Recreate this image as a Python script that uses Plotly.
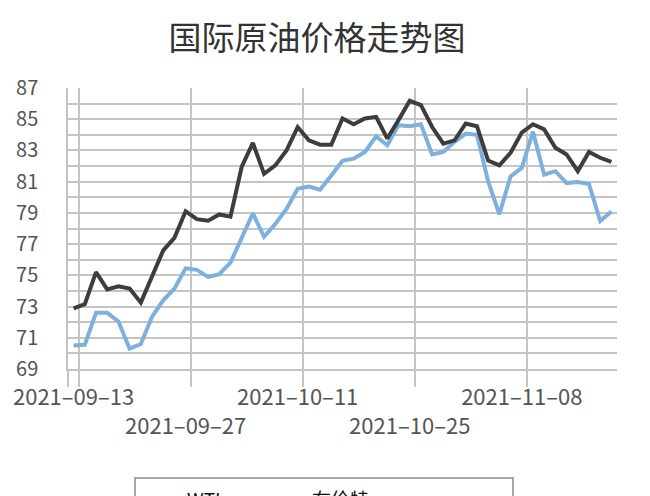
import plotly.graph_objects as go

# Trading-day index (49 trading days, 2021-09-13 .. 2021-11-18)
tick_index = [0, 10, 20, 30, 40]
tick_labels = ["2021–09–13", "<br>2021–09–27", "2021–10–11", "<br>2021–10–25", "2021–11–08"]

wti = [70.5, 70.55, 72.6, 72.6, 72.05, 70.3, 70.6, 72.35, 73.4, 74.15,
       75.45, 75.35, 74.9, 75.07, 75.82, 77.43, 78.97, 77.47, 78.29, 79.25,
       80.54, 80.69, 80.48, 81.4, 82.34, 82.47, 82.9, 83.9, 83.33, 84.62,
       84.55, 84.68, 82.75, 82.9, 83.55, 84.08, 84.0, 81.02, 78.91, 81.34,
       81.88, 84.2, 81.45, 81.67, 80.91, 80.98, 80.85, 78.48, 79.09]

brent = [72.89, 73.15, 75.2, 74.1, 74.3, 74.15, 73.25, 75.0, 76.6, 77.4,
         79.1, 78.6, 78.5, 78.9, 78.76, 81.94, 83.48, 81.5, 82.04, 83.0,
         84.5, 83.65, 83.37, 83.37, 85.05, 84.68, 85.05, 85.15, 83.76, 84.94,
         86.18, 85.9, 84.5, 83.44, 83.65, 84.73, 84.55, 82.35, 82.05, 82.85,
         84.14, 84.68, 84.35, 83.17, 82.74, 81.67, 82.9, 82.53, 82.27]

x = list(range(len(wti)))

FONT = "Noto Sans CJK SC"
GRID = "#c4c4c4"
W, H = 642, 488  # page body has an 8px margin
PL, PR, PT, PB = 60, 33, 80, 127
PH = H - PT - PB

fig = go.Figure()
fig.add_trace(go.Scatter(x=x, y=wti, mode="lines", name="WTI",
                         line=dict(color="#7db0dd", width=4)))
fig.add_trace(go.Scatter(x=x, y=brent, mode="lines", name="布伦特",
                         line=dict(color="#3d3d3d", width=4)))

# legend frame (wider than the entries, as in the reference)
fig.add_shape(type="rect", xref="paper", yref="paper",
              x0=(127 - PL) / (W - PL - PR), x1=(505 - PL) / (W - PL - PR),
              y0=-(470 - (H - PB)) / PH, y1=-(560 - (H - PB)) / PH,
              line=dict(color="#8a8a8a", width=1.5), fillcolor="rgba(0,0,0,0)")

fig.update_layout(
    width=W, height=H,
    margin=dict(l=PL, r=PR, t=PT, b=PB, autoexpand=False),
    paper_bgcolor="white", plot_bgcolor="white",
    title=dict(text="国际原油价格走势图", x=309 / W, xanchor="center",
               y=1 - 30 / H, yanchor="middle",
               font=dict(family=FONT, size=33, color="#333333")),
    font=dict(family=FONT, color="#595959"),
    showlegend=True,
    legend=dict(orientation="h", xref="container", yref="container",
                x=129 / W, xanchor="left", y=1 - 473 / H, yanchor="top",
                borderwidth=0, bgcolor="rgba(0,0,0,0)",
                itemwidth=40, entrywidth=70,
                font=dict(family=FONT, size=19, color="#111111")),
)

fig.update_xaxes(
    range=[-0.5, 48.5],
    tickmode="array", tickvals=tick_index, ticktext=tick_labels,
    tickangle=0,
    ticks="", showgrid=False, zeroline=False,
    ticklabelstandoff=8,
    tickfont=dict(family=FONT, size=22, color="#555555"),
    showline=True, linecolor=GRID, linewidth=1.5,
    minor=dict(tickmode="array", tickvals=[-0.5, 0.5, 10.5, 20.5, 30.5, 40.5],
               showgrid=True, gridcolor=GRID, gridwidth=1.5,
               ticks="outside", ticklen=16, tickcolor=GRID, tickwidth=1.5),
)

fig.update_yaxes(
    range=[69, 87],
    tickmode="linear", tick0=69, dtick=2,
    showgrid=True, gridcolor=GRID, gridwidth=1.5, zeroline=False,
    ticks="", ticklabelstandoff=24,
    tickfont=dict(family=FONT, size=20, color="#555555"),
    showline=True, linecolor=GRID, linewidth=1.5,
    minor=dict(tick0=69, dtick=1, showgrid=True, gridcolor=GRID, gridwidth=1.5),
)

fig.write_html("out.html")
